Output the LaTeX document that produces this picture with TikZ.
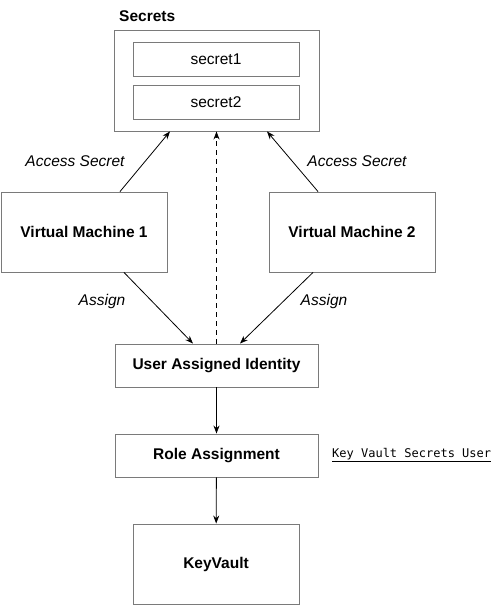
\documentclass[tikz,border=0pt]{standalone}
\usepackage{fontspec}
\setmainfont{Liberation Sans}
\setmonofont{DejaVu Sans Mono}
\usetikzlibrary{arrows.meta}
\definecolor{box_gray}{HTML}{7A7A7A}
\tikzset{
  boxnode/.style={draw=box_gray, line width=0.9pt, inner sep=0pt, font=\fontsize{15.5}{18}\selectfont\bfseries},
  secretnode/.style={draw=box_gray, line width=0.9pt, inner sep=0pt, minimum width=166pt, minimum height=34pt, font=\fontsize{15.5}{18}\selectfont},
  flow/.style={-{Stealth[length=8pt,width=6pt]}, line width=0.8pt, black},
  edgelabel/.style={font=\fontsize{15.5}{18}\selectfont\itshape}
}

\begin{document}
\begin{tikzpicture}[x=1pt, y=-1pt]
\useasboundingbox (0,0) rectangle (496,605);

% Draw the secrets container with its two entries
\node[draw=box_gray, line width=0.9pt, minimum width=205pt, minimum height=101pt] (secrets) at (216.5,80.5) {};
\node[anchor=base west, font=\fontsize{15.5}{18}\selectfont\bfseries, inner sep=0pt] (secretstitle) at (119,21.5) {Secrets};
\node[secretnode] (secret1) at (216,59) {secret1};
\node[secretnode] (secret2) at (216,102.5) {secret2};

% Draw the two virtual machines
\node[boxnode, minimum width=166pt, minimum height=80pt] (vm1) at (84,232) {Virtual Machine 1};
\node[boxnode, minimum width=166pt, minimum height=80pt] (vm2) at (352,232) {Virtual Machine 2};

% Draw the identity, role and vault boxes
\node[boxnode, minimum width=203pt, minimum height=43pt] (identity) at (216.5,365.5) {User Assigned Identity};
\node[boxnode, minimum width=203pt, minimum height=43pt] (role) at (216.5,455.5) {Role Assignment};
\node[boxnode, minimum width=166pt, minimum height=80pt] (keyvault) at (216,564) {KeyVault};

% Role name beside the role assignment
\node[anchor=west, inner sep=0pt, font=\fontsize{12}{14}\selectfont\ttfamily] (rolename) at (332,455) {\underline{Key Vault Secrets User}};

% Draw the access arrows towards the secrets
\draw[flow] (vm1.north -| 120,0) -- (secrets.south -| 170,0);
\draw[flow] (vm2.north -| 318,0) -- (secrets.south -| 267,0);
\draw[flow, dashed, dash pattern=on 5pt off 4pt] (identity.north) -- (secrets.south);

% Draw the assign arrows towards the identity
\draw[flow] (vm1.south -| 124,0) -- (identity.north -| 193,0);
\draw[flow] (vm2.south -| 313,0) -- (identity.north -| 240,0);

% Draw the chain down to the vault
\draw[flow] (identity) -- (role);
\draw[flow] (role) -- (keyvault);

% Arrow labels
\node[edgelabel] (access1) at (75,161) {Access Secret};
\node[edgelabel] (access2) at (357,161) {Access Secret};
\node[edgelabel] (assign1) at (102,301) {Assign};
\node[edgelabel] (assign2) at (324,301) {Assign};

\end{tikzpicture}
\end{document}
